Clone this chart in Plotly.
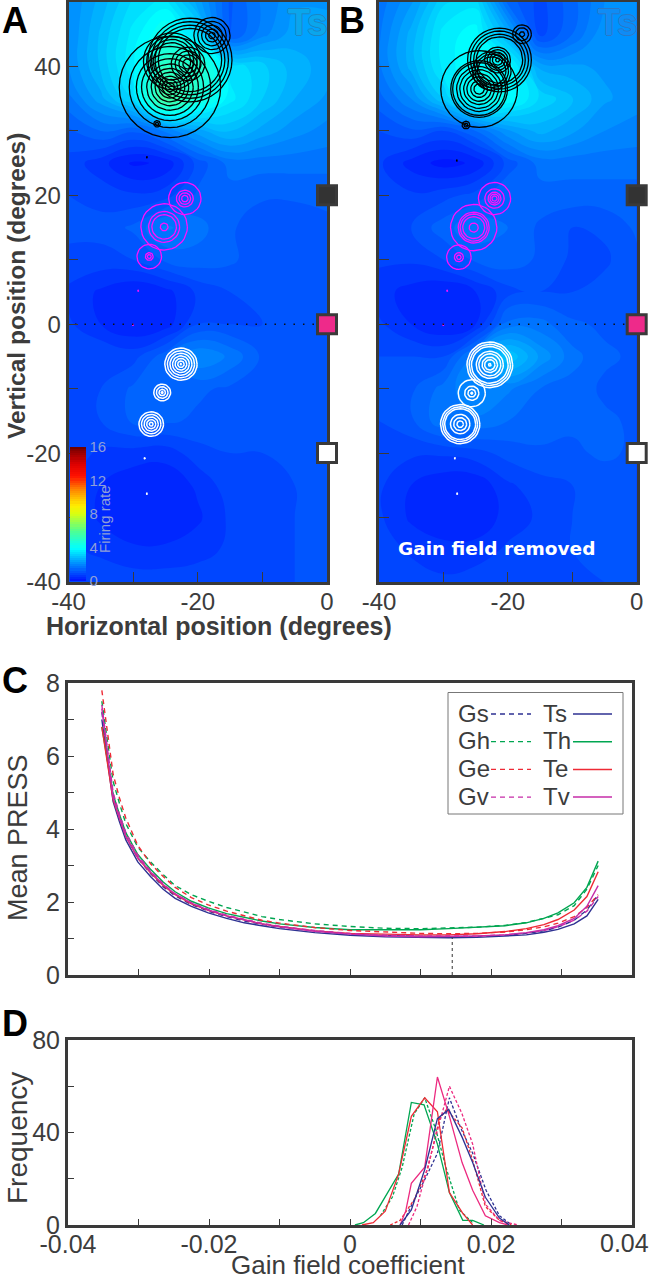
import math
import plotly.graph_objects as go

W, H = 652, 1280
DARK = "#3a3a3a"
TXT = "#3c3c3c"
BLUE, GREEN, RED, MAG, PINK = "#2e3192", "#00a651", "#ee2a35", "#c62da8", "#ec2a80"
SANS = "Liberation Sans, Arial, sans-serif"

# ---------- firing-rate fields (degrees) ----------
field_x = [-40, -35, -30, -25, -20, -15, -10, -5, 0]
field_y = [50, 45, 40, 35, 30, 25, 20, 15, 10, 5, 0, -5, -10, -15, -20, -25, -30, -35, -40]
field_a = [
    [2.0, 2.6, 3.3, 3.6, 2.4, 1.2, 1.8, 2.2, 2.2],
    [2.0, 2.8, 3.6, 4.3, 3.4, 1.2, 1.9, 2.4, 2.4],
    [2.0, 2.8, 3.7, 5.0, 5.0, 3.4, 3.1, 2.6, 2.4],
    [1.7, 2.4, 3.3, 5.8, 4.6, 3.6, 3.0, 2.5, 2.2],
    [1.2, 1.5, 1.3, 1.8, 2.4, 2.8, 2.4, 2.1, 1.9],
    [0.9, 0.6, 0.2, 0.3, 1.1, 1.6, 1.6, 1.6, 1.6],
    [1.0, 0.9, 0.8, 0.9, 1.3, 1.4, 1.3, 1.3, 1.3],
    [1.1, 1.1, 1.3, 1.8, 1.6, 1.3, 1.05, 1.05, 1.2],
    [0.9, 0.9, 1.0, 1.3, 1.4, 1.3, 1.1, 1.05, 1.1],
    [0.7, 0.45, 0.25, 0.4, 0.8, 1.0, 1.1, 1.1, 1.1],
    [0.8, 0.5, 0.25, 0.35, 1.0, 1.0, 1.0, 1.1, 1.1],
    [1.0, 1.0, 0.9, 1.4, 2.0, 1.7, 1.2, 1.1, 1.1],
    [1.0, 1.0, 1.3, 1.5, 1.3, 1.2, 1.1, 1.1, 1.1],
    [1.0, 1.0, 1.3, 1.3, 1.2, 1.1, 1.1, 1.1, 1.1],
    [0.9, 0.7, 0.65, 0.6, 0.9, 1.0, 1.0, 1.1, 1.1],
    [0.8, 0.5, 0.3, 0.3, 0.55, 0.9, 1.0, 1.0, 1.1],
    [0.8, 0.45, 0.28, 0.28, 0.45, 0.8, 1.0, 1.0, 1.1],
    [0.8, 0.7, 0.55, 0.55, 0.65, 0.8, 0.9, 1.0, 1.1],
    [0.9, 0.9, 0.9, 0.9, 0.9, 0.9, 1.0, 1.0, 1.1],
]
field_b = [
    [1.6, 2.2, 3.2, 3.4, 1.4, 0.9, 1.4, 2.0, 2.1],
    [1.7, 2.6, 3.6, 3.9, 2.6, 0.9, 1.5, 2.2, 2.2],
    [1.7, 2.6, 3.6, 4.0, 4.0, 2.4, 2.3, 2.2, 2.2],
    [1.4, 2.0, 3.0, 4.2, 4.0, 3.2, 2.8, 2.3, 2.1],
    [1.0, 1.2, 1.0, 1.5, 2.2, 2.6, 2.3, 2.0, 1.9],
    [0.8, 0.4, 0.15, 0.3, 1.1, 1.6, 1.6, 1.6, 1.6],
    [0.9, 0.8, 0.9, 1.1, 1.5, 1.4, 1.4, 1.4, 1.4],
    [1.0, 1.0, 1.4, 1.7, 1.5, 1.2, 1.0, 1.05, 1.3],
    [0.8, 0.8, 1.0, 1.3, 1.4, 1.2, 0.95, 0.95, 1.2],
    [0.6, 0.4, 0.25, 0.5, 0.9, 1.0, 1.0, 1.1, 1.2],
    [0.8, 0.5, 0.25, 0.5, 1.6, 1.6, 1.3, 1.2, 1.2],
    [1.0, 1.0, 1.0, 1.9, 3.0, 2.2, 1.6, 1.3, 1.2],
    [1.1, 1.2, 1.6, 2.0, 1.8, 1.5, 1.4, 1.2, 1.2],
    [1.0, 1.2, 1.7, 1.7, 1.5, 1.4, 1.3, 1.3, 1.2],
    [0.9, 0.8, 0.8, 0.9, 1.1, 1.2, 1.2, 1.3, 1.2],
    [0.8, 0.5, 0.3, 0.3, 0.7, 0.9, 1.0, 1.1, 1.2],
    [0.8, 0.45, 0.28, 0.3, 0.6, 0.8, 1.0, 1.1, 1.1],
    [0.9, 0.7, 0.6, 0.6, 0.8, 0.9, 1.0, 1.1, 1.1],
    [1.0, 0.9, 0.8, 0.9, 0.9, 0.85, 0.9, 1.0, 1.1],
]

# ---------- response-field rings: (centre x, centre y, [radii]) in degrees ----------
rings_a_black = [
    (-24.3, 36.8, [7.85, 6.3, 5.2, 4.4, 3.6, 2.9, 2.3, 1.7, 1.2, 0.7]),
    (-21.2, 41.0, [6.5, 5.95, 5.4, 4.9]),
    (-21.5, 40.4, [2.6, 2.0, 1.4, 0.8]),
    (-24.0, 40.8, [4.4, 3.9, 3.4, 2.9]),
    (-17.8, 44.8, [2.8, 2.2, 1.6, 1.0, 0.5]),
    (-26.3, 31.1, [0.5, 0.25]),
    (-27.85, 25.9, [0.08]),
]
rings_a_magenta = [
    (-22.0, 19.5, [2.5, 1.3, 0.9, 0.5]),
    (-25.2, 15.1, [3.6, 2.4, 1.9, 0.6]),
    (-27.5, 10.5, [1.9, 0.6, 0.3]),
    (-29.2, 5.2, [0.08]),
    (-30.0, -0.1, [0.08]),
]
rings_a_white = [
    (-22.6, -6.2, [2.5, 2.1, 1.7, 1.3, 0.9, 0.5, 0.1]),
    (-25.5, -10.6, [1.3, 0.9, 0.5, 0.15]),
    (-27.2, -15.5, [1.9, 1.5, 1.1, 0.7, 0.3]),
    (-28.2, -20.8, [0.08]),
    (-27.85, -26.3, [0.08]),
]
rings_b_black = [
    (-24.46, 36.5, [5.95, 4.4, 4.1, 3.5, 3.0, 2.4, 1.9, 1.3, 0.8]),
    (-21.3, 41.0, [4.95, 4.5, 4.0, 3.6]),
    (-21.6, 41.0, [2.0, 1.6, 1.2, 0.8, 0.3]),
    (-22.5, 39.3, [3.0, 2.6, 2.2]),
    (-17.8, 45.0, [1.45, 1.0, 0.4]),
    (-26.5, 30.9, [0.6, 0.3]),
    (-27.9, 25.4, [0.08]),
]
rings_b_magenta = [
    (-22.07, 19.5, [2.5, 1.5, 1.0, 0.7, 0.4]),
    (-25.3, 15.0, [3.6, 2.4, 2.1, 1.7, 0.7]),
    (-27.6, 10.4, [1.9, 0.7, 0.35]),
    (-29.4, 5.2, [0.08]),
    (-30.0, -0.1, [0.08]),
]
rings_b_white = [
    (-22.8, -6.3, [3.55, 3.2, 2.85, 2.1, 1.7, 1.2, 0.8, 0.2]),
    (-25.6, -10.7, [2.1, 1.1, 0.6, 0.15]),
    (-27.4, -15.5, [3.05, 2.7, 2.4, 1.5, 1.0, 0.5]),
    (-28.2, -20.8, [0.08]),
    (-27.85, -26.3, [0.08]),
]

fixation_y = [20, 0, -20]
fixation_fill = ["#333333", "#ee2a8a", "#ffffff"]
firing_ticks = [0, 4, 8, 12, 16]

# ---------- panel C ----------
gain = [-.0352, -.0344, -.0336, -.0327, -.0318, -.0301, -.0283, -.0265, -.0248, -.0225, -.0201, -.0175, -.015, -.0125,
        -.01, -.005, 0, .005, .01, .014, .018, .022, .025, .0275, .0295, .0318, .0336, .0352]
press_ts = [7.0, 5.8, 4.75, 4.2, 3.7, 3.1, 2.7, 2.35, 2.1, 1.88, 1.7, 1.55, 1.43, 1.35, 1.27, 1.16, 1.09, 1.05, 1.03, 1.02, 1.03, 1.06, 1.1, 1.17, 1.25, 1.4, 1.62, 2.07]
press_gs = [7.2, 6.0, 4.9, 4.35, 3.8, 3.2, 2.78, 2.42, 2.17, 1.93, 1.75, 1.6, 1.48, 1.39, 1.31, 1.2, 1.12, 1.08, 1.06, 1.05, 1.06, 1.09, 1.14, 1.21, 1.31, 1.5, 1.78, 2.2]
press_th = [6.8, 5.9, 4.95, 4.4, 3.9, 3.3, 2.9, 2.55, 2.28, 2.02, 1.84, 1.68, 1.57, 1.48, 1.4, 1.3, 1.24, 1.23, 1.24, 1.27, 1.3, 1.35, 1.43, 1.55, 1.7, 1.98, 2.4, 3.12]
press_gh = [7.5, 6.4, 5.3, 4.7, 4.15, 3.5, 3.1, 2.75, 2.45, 2.2, 2.02, 1.85, 1.72, 1.6, 1.52, 1.4, 1.33, 1.28, 1.27, 1.28, 1.31, 1.36, 1.44, 1.55, 1.65, 1.9, 2.35, 3.0]
press_te = [6.8, 5.75, 4.8, 4.3, 3.8, 3.2, 2.8, 2.45, 2.2, 1.95, 1.77, 1.62, 1.5, 1.4, 1.33, 1.21, 1.14, 1.11, 1.1, 1.1, 1.13, 1.19, 1.27, 1.38, 1.52, 1.78, 2.15, 2.83]
press_ge = [7.8, 6.6, 5.5, 4.85, 4.3, 3.55, 3.05, 2.7, 2.4, 2.12, 1.92, 1.75, 1.62, 1.5, 1.42, 1.3, 1.22, 1.17, 1.14, 1.13, 1.14, 1.18, 1.24, 1.32, 1.42, 1.6, 1.85, 2.2]
press_tv = [7.3, 6.0, 4.85, 4.3, 3.8, 3.22, 2.82, 2.48, 2.22, 1.97, 1.78, 1.62, 1.5, 1.4, 1.32, 1.2, 1.12, 1.07, 1.05, 1.05, 1.07, 1.1, 1.16, 1.24, 1.35, 1.55, 1.88, 2.45]
press_gv = [7.4, 6.2, 5.0, 4.4, 3.9, 3.28, 2.85, 2.5, 2.22, 1.98, 1.8, 1.64, 1.52, 1.42, 1.34, 1.22, 1.14, 1.09, 1.07, 1.06, 1.07, 1.1, 1.15, 1.22, 1.32, 1.5, 1.75, 2.15]
best_gain = 0.0145
best_press = 1.02

# ---------- panel D ----------
hist_th_x = [.0007, .0019, .0036, .0069, .0087, .0105, .0124, .0141, .016, .0174, .019]
hist_th_y = [0, 1, 5, 22, 53, 52, 35, 14, 2, 2, 0]
hist_te_x = [.0017, .0033, .005, .0069, .0087, .0106, .0124, .0141, .016, .0174]
hist_te_y = [0, 1, 6, 22, 47, 55, 49, 14, 5, 0]
hist_gh_x = [.0043, .0060, .0074, .0091, .0106, .0122, .0136, .0155, .0174]
hist_gh_y = [4, 12, 25, 48, 55, 41, 25, 6.5, 1]
hist_tv_x = [.0071, .0079, .0087, .0106, .0124, .0141, .0159, .0174, .0192, .0212, .0224]
hist_tv_y = [0, 6, 18, 25, 64, 47, 27, 15, 4, 1, 0]
hist_ts_x = [.0071, .0087, .0106, .0124, .0140, .0159, .0174, .0192, .0212, .0226]
hist_ts_y = [0, 6.5, 24, 46, 50, 38, 27, 12, 3, 0]
hist_gs_x = [.0074, .0088, .0105, .0124, .0141, .0157, .0174, .0193, .0212, .0229]
hist_gs_y = [0, 9, 19, 31, 55, 42, 31, 15, 4, 0]
hist_ge_x = [.0057, .0071, .0091, .0110, .0127, .0137, .0159, .0174, .0192, .0212, .0229]
hist_ge_y = [0, 2, 11, 24, 46, 50, 42, 28, 8, 2, 0]
hist_gv_x = [.0083, .0095, .0110, .0127, .0141, .0159, .0174, .0192, .0212, .0238]
hist_gv_y = [0, 8, 25, 44, 60, 48, 35, 9, 2, 0]

legend_rows = [("Gs", "Ts", BLUE, BLUE), ("Gh", "Th", GREEN, GREEN), ("Ge", "Te", RED, RED), ("Gv", "Tv", MAG, MAG)]

colorscale_stops = [
    (0, "#0010ff"), (3.9, "#00ffff"), (6, "#50ff90"), (8, "#d8ff10"), (9, "#ffee00"),
    (11, "#ff8000"), (12.5, "#ff1000"), (14, "#dc0000"), (16, "#700000"),
]


def px_x(a, b):
    return [a / W, b / W]


def px_y(top, bottom):
    return [1 - bottom / H, 1 - top / H]


def ring_xy(rings):
    xs, ys = [], []
    for cx, cy, radii in rings:
        for r in radii:
            for k in range(37):
                t = 2 * math.pi * k / 36
                xs.append(cx + r * math.cos(t))
                ys.append(cy + r * math.sin(t))
            xs.append(None)
            ys.append(None)
    return xs, ys


fig = go.Figure()
cs = [[v / 16, c] for v, c in colorscale_stops]

for i, (z, xa, ya, rings) in enumerate([
    (field_a, "x", "y", (rings_a_black, rings_a_magenta, rings_a_white)),
    (field_b, "x2", "y2", (rings_b_black, rings_b_magenta, rings_b_white)),
]):
    tr = dict(
        x=field_x, y=field_y, z=z, xaxis=xa, yaxis=ya, zmin=0, zmax=16, zauto=False, colorscale=cs,
        contours=dict(coloring="fill", start=0, end=16, size=0.25, showlines=False),
        line=dict(width=0, smoothing=1.3), hoverinfo="skip",
    )
    if i == 0:
        tr["colorbar"] = dict(
            x=69.5 / W, xanchor="left", xpad=0, y=1 - 581 / H, yanchor="bottom", ypad=0,
            len=134, lenmode="pixels", thickness=16, thicknessmode="pixels",
            outlinewidth=0, tickvals=firing_ticks, ticks="", ticklabelposition="outside",
            tickfont=dict(family=SANS, size=15, color="#8f9fd8"), ticklen=0,
        )
    else:
        tr["showscale"] = False
    fig.add_trace(go.Contour(**tr))
    for rr, col, w in zip(rings, ["#000000", "#ff10ff", "#ffffff"], [1.3, 1.3, 1.5]):
        xs, ys = ring_xy(rr)
        fig.add_trace(go.Scatter(x=xs, y=ys, xaxis=xa, yaxis=ya, mode="lines", line=dict(color=col, width=w),
                                 showlegend=False, hoverinfo="skip"))
    fig.add_trace(go.Scatter(x=[-39, -1], y=[0, 0], xaxis=xa, yaxis=ya, mode="lines",
                             line=dict(color="#111111", width=1.5, dash="1.5px,8px"), showlegend=False, hoverinfo="skip"))

for y, col, dash in [
    (press_ts, BLUE, "solid"), (press_gs, BLUE, "5px,4px"), (press_th, GREEN, "solid"), (press_gh, GREEN, "5px,4px"),
    (press_te, RED, "solid"), (press_ge, RED, "5px,4px"), (press_tv, MAG, "solid"), (press_gv, MAG, "5px,4px"),
]:
    fig.add_trace(go.Scatter(x=gain, y=y, xaxis="x3", yaxis="y3", mode="lines", line=dict(color=col, width=1.4, dash=dash),
                             showlegend=False, hoverinfo="skip"))
fig.add_trace(go.Scatter(x=[best_gain, best_gain], y=[0, best_press], xaxis="x3", yaxis="y3", mode="lines",
                         line=dict(color="#333333", width=1, dash="3px,3px"), showlegend=False, hoverinfo="skip"))

for x, y, col, dash in [
    (hist_gh_x, hist_gh_y, GREEN, "3px,2px"), (hist_gs_x, hist_gs_y, BLUE, "3px,2px"),
    (hist_ge_x, hist_ge_y, RED, "3px,2px"), (hist_gv_x, hist_gv_y, PINK, "3px,2px"),
    (hist_th_x, hist_th_y, GREEN, "solid"), (hist_te_x, hist_te_y, RED, "solid"),
    (hist_tv_x, hist_tv_y, PINK, "solid"), (hist_ts_x, hist_ts_y, BLUE, "solid"),
]:
    fig.add_trace(go.Scatter(x=x, y=y, xaxis="x4", yaxis="y4", mode="lines", line=dict(color=col, width=1.3, dash=dash),
                             showlegend=False, hoverinfo="skip"))

# fixation squares live on their own narrow axes, so they sit on top of the panel frames
for xa, ya in [("x5", "y5"), ("x6", "y6")]:
    fig.add_trace(go.Scatter(x=[0] * 3, y=fixation_y, xaxis=xa, yaxis=ya, mode="markers",
                             marker=dict(symbol="square", size=19, color=fixation_fill,
                                         line=dict(color=DARK, width=3)),
                             showlegend=False, hoverinfo="skip"))

tf = dict(family=SANS, size=24, color=TXT)
tf25 = dict(family=SANS, size=25, color=TXT)


def lab(vals, show):
    return [str(v) if v in show else "" for v in vals]


xt = list(range(-40, 1, 10))
yt = list(range(-40, 41, 10))
mapaxis = dict(showline=True, linecolor=DARK, linewidth=2.5, mirror=True, ticks="inside", ticklen=10, tickwidth=1.2,
               tickcolor=DARK, showgrid=False, zeroline=False, tickfont=tf, layer="above traces", tickangle=0,
               automargin=False)
gx = [-.04, -.03, -.02, -.01, 0, .01, .02, .03, .04]
gxt = ["-0.04", "", "-0.02", "", "0", "", "0.02", "", ""]
lineaxis = dict(showline=True, linecolor=DARK, linewidth=3, mirror=True, ticks="inside", ticklen=6, tickwidth=1.2,
                tickcolor=DARK, showgrid=False, zeroline=False, tickfont=tf25, range=[-.04, .04], tickangle=0,
                automargin=False)
hidden = dict(visible=False, showgrid=False, zeroline=False)
SQ_L, SQ_R = 40.0, 18.0  # pixels left / right of the x=0 line spanned by the square axes
PX_DEG_A = (327 - 68.5) / 40
PX_DEG_B = (636.7 - 379) / 40

layout = dict(
    width=W, height=H, margin=dict(l=0, r=0, t=0, b=0, autoexpand=False), paper_bgcolor="white",
    plot_bgcolor="rgba(0,0,0,0)", showlegend=False, font=dict(family=SANS),
    xaxis=dict(mapaxis, domain=px_x(68.5, 327), range=[-40, 0], anchor="y", tickvals=xt, ticktext=lab(xt, {-40, -20, 0}), ticklabelstandoff=-4),
    yaxis=dict(mapaxis, domain=px_y(2, 582), range=[-40, 50], anchor="x", tickvals=yt, ticktext=lab(yt, {-40, -20, 0, 20, 40})),
    xaxis2=dict(mapaxis, domain=px_x(379, 636.7), range=[-40, 0], anchor="y2", tickvals=xt, ticktext=lab(xt, {-40, -20, 0}), ticklabelstandoff=-4),
    yaxis2=dict(mapaxis, domain=px_y(2, 582), range=[-40, 50], anchor="x2", tickvals=yt, ticktext=[""] * len(yt)),
    xaxis3=dict(lineaxis, domain=px_x(68, 632), anchor="y3", tickvals=gx, ticktext=[""] * len(gx)),
    yaxis3=dict(lineaxis, domain=px_y(683, 975), range=[0, 8], anchor="x3", tickvals=list(range(9)),
                ticktext=[str(v) if v % 2 == 0 else "" for v in range(9)]),
    xaxis4=dict(lineaxis, domain=px_x(68, 632), anchor="y4", tickvals=gx, ticktext=gxt, ticklabelstandoff=-5),
    yaxis4=dict(lineaxis, domain=px_y(1040, 1225), range=[0, 80], anchor="x4", tickvals=[0, 20, 40, 60, 80],
                ticktext=["0", "", "40", "", "80"]),
    xaxis5=dict(hidden, domain=px_x(327 - SQ_L, 327 + SQ_R), range=[-SQ_L / PX_DEG_A, SQ_R / PX_DEG_A], anchor="y5"),
    yaxis5=dict(hidden, domain=px_y(2, 582), range=[-40, 50], anchor="x5"),
    xaxis6=dict(hidden, domain=px_x(636.7 - SQ_L, 636.7 + SQ_R - 3), range=[-SQ_L / PX_DEG_B, (SQ_R - 3) / PX_DEG_B], anchor="y6"),
    yaxis6=dict(hidden, domain=px_y(2, 582), range=[-40, 50], anchor="x6"),
)


def note(text, x, y, size, color=TXT, bold=False, angle=0, xanchor="center", family=SANS, shadow=None):
    font = dict(family=family, size=size, color=color)
    if shadow:
        font["shadow"] = f"1px 0 {shadow}, -1px 0 {shadow}, 0 1px {shadow}, 0 -1px {shadow}"
    return dict(text=f"<b>{text}</b>" if bold else text, x=x / W, y=1 - y / H, xref="paper", yref="paper", showarrow=False,
                font=font, textangle=angle, xanchor=xanchor, yanchor="middle")


NARROW = "Liberation Sans Narrow, Liberation Sans, sans-serif"
anns = [
    note("A", 15, 21, 36, "#000000", True), note("B", 352, 21, 36, "#000000", True),
    note("C", 15, 680, 36, "#000000", True), note("D", 15, 1023, 36, "#000000", True),
    note("Ts", 307, 23, 36, "#0aa6ec", True, family=NARROW, shadow="#1c86c4"),
    note("Ts", 617, 23, 36, "#0f8cf5", True, family=NARROW, shadow="#2a78c8"),
    note("Firing rate", 104, 519, 15, "#8f9fd8", angle=-90),
    note("Vertical position (degrees)", 17, 286, 24.5, TXT, True, -90),
    note("Horizontal position (degrees)", 219, 626, 25, TXT, True),
    note("Gain field removed", 496, 548, 18.5, "#ffffff", True, family="DejaVu Sans"),
    note("Mean PRESS", 18, 838, 27, TXT, angle=-90),
    note("Frequency", 17, 1138, 28, TXT, angle=-90),
    note("Gain field coefficient", 348, 1265, 26, TXT),
    note("0.04", 624, 1243, 25, TXT),
]
shapes = [dict(type="rect", xref="paper", yref="paper", x0=448 / W, x1=623 / W, y0=1 - 814 / H, y1=1 - 692.5 / H,
               line=dict(color="#777777", width=1), fillcolor="white", layer="above")]
for row, (a, b, c1, c2) in enumerate(legend_rows):
    yy = 713 + row * 27.7
    anns.append(note(a, 456, yy, 24, TXT, xanchor="left"))
    anns.append(note(b, 541, yy, 24, TXT, xanchor="left"))
    shapes.append(dict(type="line", xref="paper", yref="paper", x0=491 / W, x1=531 / W, y0=1 - (yy + 1) / H, y1=1 - (yy + 1) / H,
                       line=dict(color=c1, width=1.3, dash="5px,4px"), layer="above"))
    shapes.append(dict(type="line", xref="paper", yref="paper", x0=573 / W, x1=612 / W, y0=1 - (yy + 1) / H, y1=1 - (yy + 1) / H,
                       line=dict(color=c2, width=1.5), layer="above"))
layout["annotations"] = anns
layout["shapes"] = shapes
fig.update_layout(**layout)
fig.write_html("out.html", config={"displayModeBar": False}, post_script="document.body.style.margin='0';")
